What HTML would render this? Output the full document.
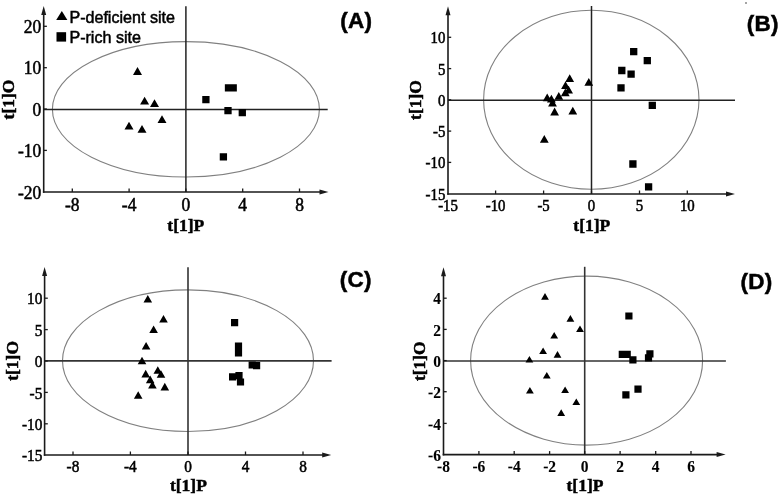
<!DOCTYPE html>
<html><head><meta charset="utf-8"><style>
html,body{margin:0;padding:0;background:#fff;}
body{width:778px;height:498px;overflow:hidden;}
svg{display:block;will-change:transform;}
.tk{font-family:"Liberation Serif",serif;fill:#000;}
.at{font-family:"Liberation Serif",serif;font-weight:bold;fill:#000;}
.pl{font-family:"Liberation Sans",sans-serif;font-weight:bold;font-size:22.5px;letter-spacing:0.2px;fill:#000;}
.lg{font-family:"Liberation Sans",sans-serif;font-size:16.1px;fill:#000;}
text{stroke:#000;stroke-width:0.5px;}
</style></head><body>
<svg width="778" height="498" viewBox="0 0 778 498" fill="#000">
<ellipse cx="185.9" cy="109.3" rx="133.5" ry="67.7" fill="none" stroke="#808080" stroke-width="1.1"/>
<line x1="185.9" y1="6.3" x2="185.9" y2="192" stroke="#222" stroke-width="1.5"/>
<line x1="43.7" y1="109.4" x2="327.7" y2="109.4" stroke="#222" stroke-width="1.5"/>
<line x1="43.7" y1="14" x2="43.7" y2="192.8" stroke="#1a1a1a" stroke-width="1.6"/>
<line x1="42.900000000000006" y1="192" x2="320.5" y2="192" stroke="#1a1a1a" stroke-width="1.6"/>
<path d="M43.70 6.00 L46.20 15.00 L41.20 15.00Z" fill="#1a1a1a"/>
<path d="M328.50 192.00 L319.50 189.50 L319.50 194.50Z" fill="#1a1a1a"/>
<line x1="43.7" y1="26.3" x2="46.900000000000006" y2="26.3" stroke="#1a1a1a" stroke-width="1.3"/>
<line x1="43.7" y1="67.7" x2="46.900000000000006" y2="67.7" stroke="#1a1a1a" stroke-width="1.3"/>
<line x1="43.7" y1="109" x2="46.900000000000006" y2="109" stroke="#1a1a1a" stroke-width="1.3"/>
<line x1="43.7" y1="150.4" x2="46.900000000000006" y2="150.4" stroke="#1a1a1a" stroke-width="1.3"/>
<line x1="72.3" y1="192" x2="72.3" y2="188.5" stroke="#1a1a1a" stroke-width="1.3"/>
<line x1="129.1" y1="192" x2="129.1" y2="188.5" stroke="#1a1a1a" stroke-width="1.3"/>
<line x1="185.9" y1="192" x2="185.9" y2="188.5" stroke="#1a1a1a" stroke-width="1.3"/>
<line x1="242.7" y1="192" x2="242.7" y2="188.5" stroke="#1a1a1a" stroke-width="1.3"/>
<line x1="299.5" y1="192" x2="299.5" y2="188.5" stroke="#1a1a1a" stroke-width="1.3"/>
<text transform="translate(41.20 32.90) scale(1 1.02)" text-anchor="end" class="tk" style="font-size:17.5px;font-weight:normal">20</text>
<text transform="translate(41.20 74.30) scale(1 1.02)" text-anchor="end" class="tk" style="font-size:17.5px;font-weight:normal">10</text>
<text transform="translate(41.20 115.60) scale(1 1.02)" text-anchor="end" class="tk" style="font-size:17.5px;font-weight:normal">0</text>
<text transform="translate(41.20 157.00) scale(1 1.02)" text-anchor="end" class="tk" style="font-size:17.5px;font-weight:normal">-10</text>
<text transform="translate(41.20 198.60) scale(1 1.02)" text-anchor="end" class="tk" style="font-size:17.5px;font-weight:normal">-20</text>
<text transform="translate(72.30 210.70) scale(1 1.02)" text-anchor="middle" class="tk" style="font-size:17.5px;font-weight:normal">-8</text>
<text transform="translate(129.10 210.70) scale(1 1.02)" text-anchor="middle" class="tk" style="font-size:17.5px;font-weight:normal">-4</text>
<text transform="translate(185.90 210.70) scale(1 1.02)" text-anchor="middle" class="tk" style="font-size:17.5px;font-weight:normal">0</text>
<text transform="translate(242.70 210.70) scale(1 1.02)" text-anchor="middle" class="tk" style="font-size:17.5px;font-weight:normal">4</text>
<text transform="translate(299.50 210.70) scale(1 1.02)" text-anchor="middle" class="tk" style="font-size:17.5px;font-weight:normal">8</text>
<text x="185.80" y="230.80" text-anchor="middle" class="at" style="font-size:17.5px">t[1]P</text>
<text transform="translate(14.4 99.5) rotate(-90) scale(1.0 1)" text-anchor="middle" class="at" style="font-size:17.5px">t[1]O</text>
<text transform="translate(340.30 28.20) scale(1 0.98)" class="pl">(A)</text>
<path d="M137.50 67.10L142.00 74.90L133.00 74.90ZM144.60 96.70L149.10 104.50L140.10 104.50ZM154.50 99.30L159.00 107.10L150.00 107.10ZM162.00 115.30L166.50 123.10L157.50 123.10ZM129.00 121.80L133.50 129.60L124.50 129.60ZM142.00 125.00L146.50 132.80L137.50 132.80ZM202.25 95.95h7.30v7.30h-7.30ZM224.85 84.25h7.30v7.30h-7.30ZM229.55 84.25h7.30v7.30h-7.30ZM224.35 106.95h7.30v7.30h-7.30ZM238.65 109.05h7.30v7.30h-7.30ZM219.75 153.25h7.30v7.30h-7.30Z"/>
<ellipse cx="591.3" cy="99.8" rx="107.7" ry="89.5" fill="none" stroke="#808080" stroke-width="1.1"/>
<line x1="591.5" y1="6" x2="591.5" y2="194" stroke="#222" stroke-width="1.5"/>
<line x1="448" y1="100.2" x2="735" y2="100.2" stroke="#222" stroke-width="1.5"/>
<line x1="448" y1="14.3" x2="448" y2="194.8" stroke="#1a1a1a" stroke-width="1.6"/>
<line x1="447.2" y1="194" x2="727" y2="194" stroke="#1a1a1a" stroke-width="1.6"/>
<path d="M448.00 6.30 L450.50 15.30 L445.50 15.30Z" fill="#1a1a1a"/>
<path d="M735.00 194.00 L726.00 191.50 L726.00 196.50Z" fill="#1a1a1a"/>
<line x1="448" y1="37.3" x2="451.2" y2="37.3" stroke="#1a1a1a" stroke-width="1.3"/>
<line x1="448" y1="68.6" x2="451.2" y2="68.6" stroke="#1a1a1a" stroke-width="1.3"/>
<line x1="448" y1="99.8" x2="451.2" y2="99.8" stroke="#1a1a1a" stroke-width="1.3"/>
<line x1="448" y1="131.1" x2="451.2" y2="131.1" stroke="#1a1a1a" stroke-width="1.3"/>
<line x1="448" y1="162.4" x2="451.2" y2="162.4" stroke="#1a1a1a" stroke-width="1.3"/>
<line x1="495.6" y1="194" x2="495.6" y2="190.5" stroke="#1a1a1a" stroke-width="1.3"/>
<line x1="543.6" y1="194" x2="543.6" y2="190.5" stroke="#1a1a1a" stroke-width="1.3"/>
<line x1="591.5" y1="194" x2="591.5" y2="190.5" stroke="#1a1a1a" stroke-width="1.3"/>
<line x1="639.5" y1="194" x2="639.5" y2="190.5" stroke="#1a1a1a" stroke-width="1.3"/>
<line x1="687.3" y1="194" x2="687.3" y2="190.5" stroke="#1a1a1a" stroke-width="1.3"/>
<text transform="translate(445.30 43.30) scale(1 1.12)" text-anchor="end" class="tk" style="font-size:14.8px;font-weight:normal">10</text>
<text transform="translate(445.30 74.60) scale(1 1.12)" text-anchor="end" class="tk" style="font-size:14.8px;font-weight:normal">5</text>
<text transform="translate(445.30 105.80) scale(1 1.12)" text-anchor="end" class="tk" style="font-size:14.8px;font-weight:normal">0</text>
<text transform="translate(445.30 137.10) scale(1 1.12)" text-anchor="end" class="tk" style="font-size:14.8px;font-weight:normal">-5</text>
<text transform="translate(445.30 168.40) scale(1 1.12)" text-anchor="end" class="tk" style="font-size:14.8px;font-weight:normal">-10</text>
<text transform="translate(445.30 200.00) scale(1 1.12)" text-anchor="end" class="tk" style="font-size:14.8px;font-weight:normal">-15</text>
<text transform="translate(448.00 210.90) scale(1 1.12)" text-anchor="middle" class="tk" style="font-size:14.8px;font-weight:normal">-15</text>
<text transform="translate(495.60 210.90) scale(1 1.12)" text-anchor="middle" class="tk" style="font-size:14.8px;font-weight:normal">-10</text>
<text transform="translate(543.60 210.90) scale(1 1.12)" text-anchor="middle" class="tk" style="font-size:14.8px;font-weight:normal">-5</text>
<text transform="translate(591.50 210.90) scale(1 1.12)" text-anchor="middle" class="tk" style="font-size:14.8px;font-weight:normal">0</text>
<text transform="translate(639.50 210.90) scale(1 1.12)" text-anchor="middle" class="tk" style="font-size:14.8px;font-weight:normal">5</text>
<text transform="translate(687.30 210.90) scale(1 1.12)" text-anchor="middle" class="tk" style="font-size:14.8px;font-weight:normal">10</text>
<text x="591.80" y="230.70" text-anchor="middle" class="at" style="font-size:17.5px">t[1]P</text>
<text transform="translate(420.9 100) rotate(-90) scale(1.0 1)" text-anchor="middle" class="at" style="font-size:17.5px">t[1]O</text>
<text transform="translate(746.80 30.50) scale(1 0.98)" class="pl">(B)</text>
<path d="M569.70 74.20L574.10 82.00L565.30 82.00ZM565.50 81.20L569.90 89.00L561.10 89.00ZM568.60 85.80L573.00 93.60L564.20 93.60ZM565.30 88.50L569.70 96.30L560.90 96.30ZM558.80 91.90L563.20 99.70L554.40 99.70ZM547.20 93.50L551.60 101.30L542.80 101.30ZM551.40 94.70L555.80 102.50L547.00 102.50ZM552.50 98.60L556.90 106.40L548.10 106.40ZM554.60 107.60L559.00 115.40L550.20 115.40ZM572.80 106.80L577.20 114.60L568.40 114.60ZM588.80 77.90L593.20 85.70L584.40 85.70ZM544.30 135.00L548.70 142.80L539.90 142.80ZM630.05 47.95h7.30v7.30h-7.30ZM643.65 57.05h7.30v7.30h-7.30ZM618.15 66.85h7.30v7.30h-7.30ZM627.45 70.45h7.30v7.30h-7.30ZM617.35 84.25h7.30v7.30h-7.30ZM648.65 101.75h7.30v7.30h-7.30ZM629.25 160.35h7.30v7.30h-7.30ZM644.95 183.25h7.30v7.30h-7.30Z"/>
<ellipse cx="188" cy="360.7" rx="125.5" ry="70.8" fill="none" stroke="#808080" stroke-width="1.1"/>
<line x1="188" y1="267.2" x2="188" y2="455" stroke="#333" stroke-width="1.6"/>
<line x1="44.6" y1="360.9" x2="331.6" y2="360.9" stroke="#333" stroke-width="1.6"/>
<line x1="44.6" y1="275" x2="44.6" y2="455.8" stroke="#1a1a1a" stroke-width="1.6"/>
<line x1="43.800000000000004" y1="455" x2="323.2" y2="455" stroke="#1a1a1a" stroke-width="1.6"/>
<path d="M44.60 267.00 L47.10 276.00 L42.10 276.00Z" fill="#1a1a1a"/>
<path d="M331.20 455.00 L322.20 452.50 L322.20 457.50Z" fill="#1a1a1a"/>
<line x1="44.6" y1="298.2" x2="47.800000000000004" y2="298.2" stroke="#1a1a1a" stroke-width="1.3"/>
<line x1="44.6" y1="329.6" x2="47.800000000000004" y2="329.6" stroke="#1a1a1a" stroke-width="1.3"/>
<line x1="44.6" y1="361" x2="47.800000000000004" y2="361" stroke="#1a1a1a" stroke-width="1.3"/>
<line x1="44.6" y1="392.4" x2="47.800000000000004" y2="392.4" stroke="#1a1a1a" stroke-width="1.3"/>
<line x1="44.6" y1="423.8" x2="47.800000000000004" y2="423.8" stroke="#1a1a1a" stroke-width="1.3"/>
<line x1="73" y1="455" x2="73" y2="451.5" stroke="#1a1a1a" stroke-width="1.3"/>
<line x1="130.4" y1="455" x2="130.4" y2="451.5" stroke="#1a1a1a" stroke-width="1.3"/>
<line x1="188" y1="455" x2="188" y2="451.5" stroke="#1a1a1a" stroke-width="1.3"/>
<line x1="245.5" y1="455" x2="245.5" y2="451.5" stroke="#1a1a1a" stroke-width="1.3"/>
<line x1="303" y1="455" x2="303" y2="451.5" stroke="#1a1a1a" stroke-width="1.3"/>
<text transform="translate(42.30 304.30) scale(1 1.1)" text-anchor="end" class="tk" style="font-size:15.3px;font-weight:normal">10</text>
<text transform="translate(42.30 335.70) scale(1 1.1)" text-anchor="end" class="tk" style="font-size:15.3px;font-weight:normal">5</text>
<text transform="translate(42.30 367.10) scale(1 1.1)" text-anchor="end" class="tk" style="font-size:15.3px;font-weight:normal">0</text>
<text transform="translate(42.30 398.50) scale(1 1.1)" text-anchor="end" class="tk" style="font-size:15.3px;font-weight:normal">-5</text>
<text transform="translate(42.30 429.90) scale(1 1.1)" text-anchor="end" class="tk" style="font-size:15.3px;font-weight:normal">-10</text>
<text transform="translate(42.30 461.10) scale(1 1.1)" text-anchor="end" class="tk" style="font-size:15.3px;font-weight:normal">-15</text>
<text transform="translate(73.00 471.70) scale(1 1.1)" text-anchor="middle" class="tk" style="font-size:15.3px;font-weight:normal">-8</text>
<text transform="translate(130.40 471.70) scale(1 1.1)" text-anchor="middle" class="tk" style="font-size:15.3px;font-weight:normal">-4</text>
<text transform="translate(188.00 471.70) scale(1 1.1)" text-anchor="middle" class="tk" style="font-size:15.3px;font-weight:normal">0</text>
<text transform="translate(245.50 471.70) scale(1 1.1)" text-anchor="middle" class="tk" style="font-size:15.3px;font-weight:normal">4</text>
<text transform="translate(303.00 471.70) scale(1 1.1)" text-anchor="middle" class="tk" style="font-size:15.3px;font-weight:normal">8</text>
<text x="188.40" y="491.30" text-anchor="middle" class="at" style="font-size:17.5px">t[1]P</text>
<text transform="translate(18.3 360.9) rotate(-90) scale(1.0 1)" text-anchor="middle" class="at" style="font-size:17.5px">t[1]O</text>
<text transform="translate(339.80 286.50) scale(1 0.98)" class="pl">(C)</text>
<path d="M147.80 294.90L152.10 302.50L143.50 302.50ZM163.50 315.00L167.80 322.60L159.20 322.60ZM153.60 325.40L157.90 333.00L149.30 333.00ZM146.10 341.90L150.40 349.50L141.80 349.50ZM142.00 356.70L146.30 364.30L137.70 364.30ZM157.80 366.20L162.10 373.80L153.50 373.80ZM161.00 370.20L165.30 377.80L156.70 377.80ZM145.70 369.80L150.00 377.40L141.40 377.40ZM150.20 375.60L154.50 383.20L145.90 383.20ZM152.40 381.00L156.70 388.60L148.10 388.60ZM164.80 382.80L169.10 390.40L160.50 390.40ZM138.20 391.20L142.50 398.80L133.90 398.80ZM231.00 319.00h7.20v7.20h-7.20ZM234.90 342.40h7.20v7.20h-7.20ZM234.90 349.40h7.20v7.20h-7.20ZM248.60 361.40h7.20v7.20h-7.20ZM253.00 362.00h7.20v7.20h-7.20ZM229.00 373.20h7.20v7.20h-7.20ZM235.40 372.00h7.20v7.20h-7.20ZM236.90 378.40h7.20v7.20h-7.20Z"/>
<ellipse cx="586.6" cy="360.6" rx="116" ry="84.5" fill="none" stroke="#808080" stroke-width="1.1"/>
<line x1="584.7" y1="266.8" x2="584.7" y2="454.6" stroke="#333" stroke-width="1.6"/>
<line x1="443.5" y1="361.0" x2="725.9" y2="361.0" stroke="#333" stroke-width="1.6"/>
<line x1="443.5" y1="275.2" x2="443.5" y2="455.40000000000003" stroke="#1a1a1a" stroke-width="1.6"/>
<line x1="442.7" y1="454.6" x2="717.6" y2="454.6" stroke="#1a1a1a" stroke-width="1.6"/>
<path d="M443.50 267.20 L446.00 276.20 L441.00 276.20Z" fill="#1a1a1a"/>
<path d="M725.60 454.60 L716.60 452.10 L716.60 457.10Z" fill="#1a1a1a"/>
<line x1="443.5" y1="298.2" x2="446.7" y2="298.2" stroke="#1a1a1a" stroke-width="1.3"/>
<line x1="443.5" y1="329.4" x2="446.7" y2="329.4" stroke="#1a1a1a" stroke-width="1.3"/>
<line x1="443.5" y1="360.6" x2="446.7" y2="360.6" stroke="#1a1a1a" stroke-width="1.3"/>
<line x1="443.5" y1="391.7" x2="446.7" y2="391.7" stroke="#1a1a1a" stroke-width="1.3"/>
<line x1="443.5" y1="423.4" x2="446.7" y2="423.4" stroke="#1a1a1a" stroke-width="1.3"/>
<line x1="478.9" y1="454.6" x2="478.9" y2="451.1" stroke="#1a1a1a" stroke-width="1.3"/>
<line x1="514.2" y1="454.6" x2="514.2" y2="451.1" stroke="#1a1a1a" stroke-width="1.3"/>
<line x1="549.6" y1="454.6" x2="549.6" y2="451.1" stroke="#1a1a1a" stroke-width="1.3"/>
<line x1="584.7" y1="454.6" x2="584.7" y2="451.1" stroke="#1a1a1a" stroke-width="1.3"/>
<line x1="620.1" y1="454.6" x2="620.1" y2="451.1" stroke="#1a1a1a" stroke-width="1.3"/>
<line x1="655.7" y1="454.6" x2="655.7" y2="451.1" stroke="#1a1a1a" stroke-width="1.3"/>
<line x1="691" y1="454.6" x2="691" y2="451.1" stroke="#1a1a1a" stroke-width="1.3"/>
<text transform="translate(441.00 304.40) scale(1 1.1)" text-anchor="end" class="tk" style="font-size:15.5px;font-weight:bold;stroke-width:0.1px">4</text>
<text transform="translate(441.00 335.60) scale(1 1.1)" text-anchor="end" class="tk" style="font-size:15.5px;font-weight:bold;stroke-width:0.1px">2</text>
<text transform="translate(441.00 366.80) scale(1 1.1)" text-anchor="end" class="tk" style="font-size:15.5px;font-weight:bold;stroke-width:0.1px">0</text>
<text transform="translate(441.00 397.90) scale(1 1.1)" text-anchor="end" class="tk" style="font-size:15.5px;font-weight:bold;stroke-width:0.1px">-2</text>
<text transform="translate(441.00 429.60) scale(1 1.1)" text-anchor="end" class="tk" style="font-size:15.5px;font-weight:bold;stroke-width:0.1px">-4</text>
<text transform="translate(441.00 460.80) scale(1 1.1)" text-anchor="end" class="tk" style="font-size:15.5px;font-weight:bold;stroke-width:0.1px">-6</text>
<text transform="translate(443.50 472.20) scale(1 1.1)" text-anchor="middle" class="tk" style="font-size:15.5px;font-weight:bold;stroke-width:0.1px">-8</text>
<text transform="translate(478.90 472.20) scale(1 1.1)" text-anchor="middle" class="tk" style="font-size:15.5px;font-weight:bold;stroke-width:0.1px">-6</text>
<text transform="translate(514.20 472.20) scale(1 1.1)" text-anchor="middle" class="tk" style="font-size:15.5px;font-weight:bold;stroke-width:0.1px">-4</text>
<text transform="translate(549.60 472.20) scale(1 1.1)" text-anchor="middle" class="tk" style="font-size:15.5px;font-weight:bold;stroke-width:0.1px">-2</text>
<text transform="translate(584.70 472.20) scale(1 1.1)" text-anchor="middle" class="tk" style="font-size:15.5px;font-weight:bold;stroke-width:0.1px">0</text>
<text transform="translate(620.10 472.20) scale(1 1.1)" text-anchor="middle" class="tk" style="font-size:15.5px;font-weight:bold;stroke-width:0.1px">2</text>
<text transform="translate(655.70 472.20) scale(1 1.1)" text-anchor="middle" class="tk" style="font-size:15.5px;font-weight:bold;stroke-width:0.1px">4</text>
<text transform="translate(691.00 472.20) scale(1 1.1)" text-anchor="middle" class="tk" style="font-size:15.5px;font-weight:bold;stroke-width:0.1px">6</text>
<text x="585.00" y="491.40" text-anchor="middle" class="at" style="font-size:17.5px">t[1]P</text>
<text transform="translate(424.5 361.2) rotate(-90) scale(1.0 1)" text-anchor="middle" class="at" style="font-size:17.5px">t[1]O</text>
<text transform="translate(740.60 288.90) scale(1 0.98)" class="pl">(D)</text>
<path d="M545.00 293.10L548.90 299.70L541.10 299.70ZM570.40 315.10L574.30 321.70L566.50 321.70ZM580.00 325.40L583.90 332.00L576.10 332.00ZM554.20 332.00L558.10 338.60L550.30 338.60ZM543.10 347.50L547.00 354.10L539.20 354.10ZM557.50 351.10L561.40 357.70L553.60 357.70ZM529.40 355.90L533.30 362.50L525.50 362.50ZM546.80 371.90L550.70 378.50L542.90 378.50ZM529.90 386.90L533.80 393.50L526.00 393.50ZM565.10 386.40L569.00 393.00L561.20 393.00ZM576.30 398.40L580.20 405.00L572.40 405.00ZM561.20 409.30L565.10 415.90L557.30 415.90ZM625.30 312.40h7.20v7.20h-7.20ZM618.70 350.70h7.20v7.20h-7.20ZM623.60 350.70h7.20v7.20h-7.20ZM629.30 356.30h7.20v7.20h-7.20ZM646.30 350.20h7.20v7.20h-7.20ZM644.90 354.20h7.20v7.20h-7.20ZM622.30 391.30h7.20v7.20h-7.20ZM634.40 385.50h7.20v7.20h-7.20Z"/>
<path d="M61.8 10.9 L67.4 20.0 L56.2 20.0Z"/>
<rect x="56.5" y="32.2" width="9.6" height="9.4"/>
<text x="69.4" y="22.5" class="lg">P-deficient site</text>
<text x="69.4" y="42.6" class="lg">P-rich site</text>
<circle cx="746" cy="3" r="0.8" fill="#333"/>
</svg>
</body></html>
